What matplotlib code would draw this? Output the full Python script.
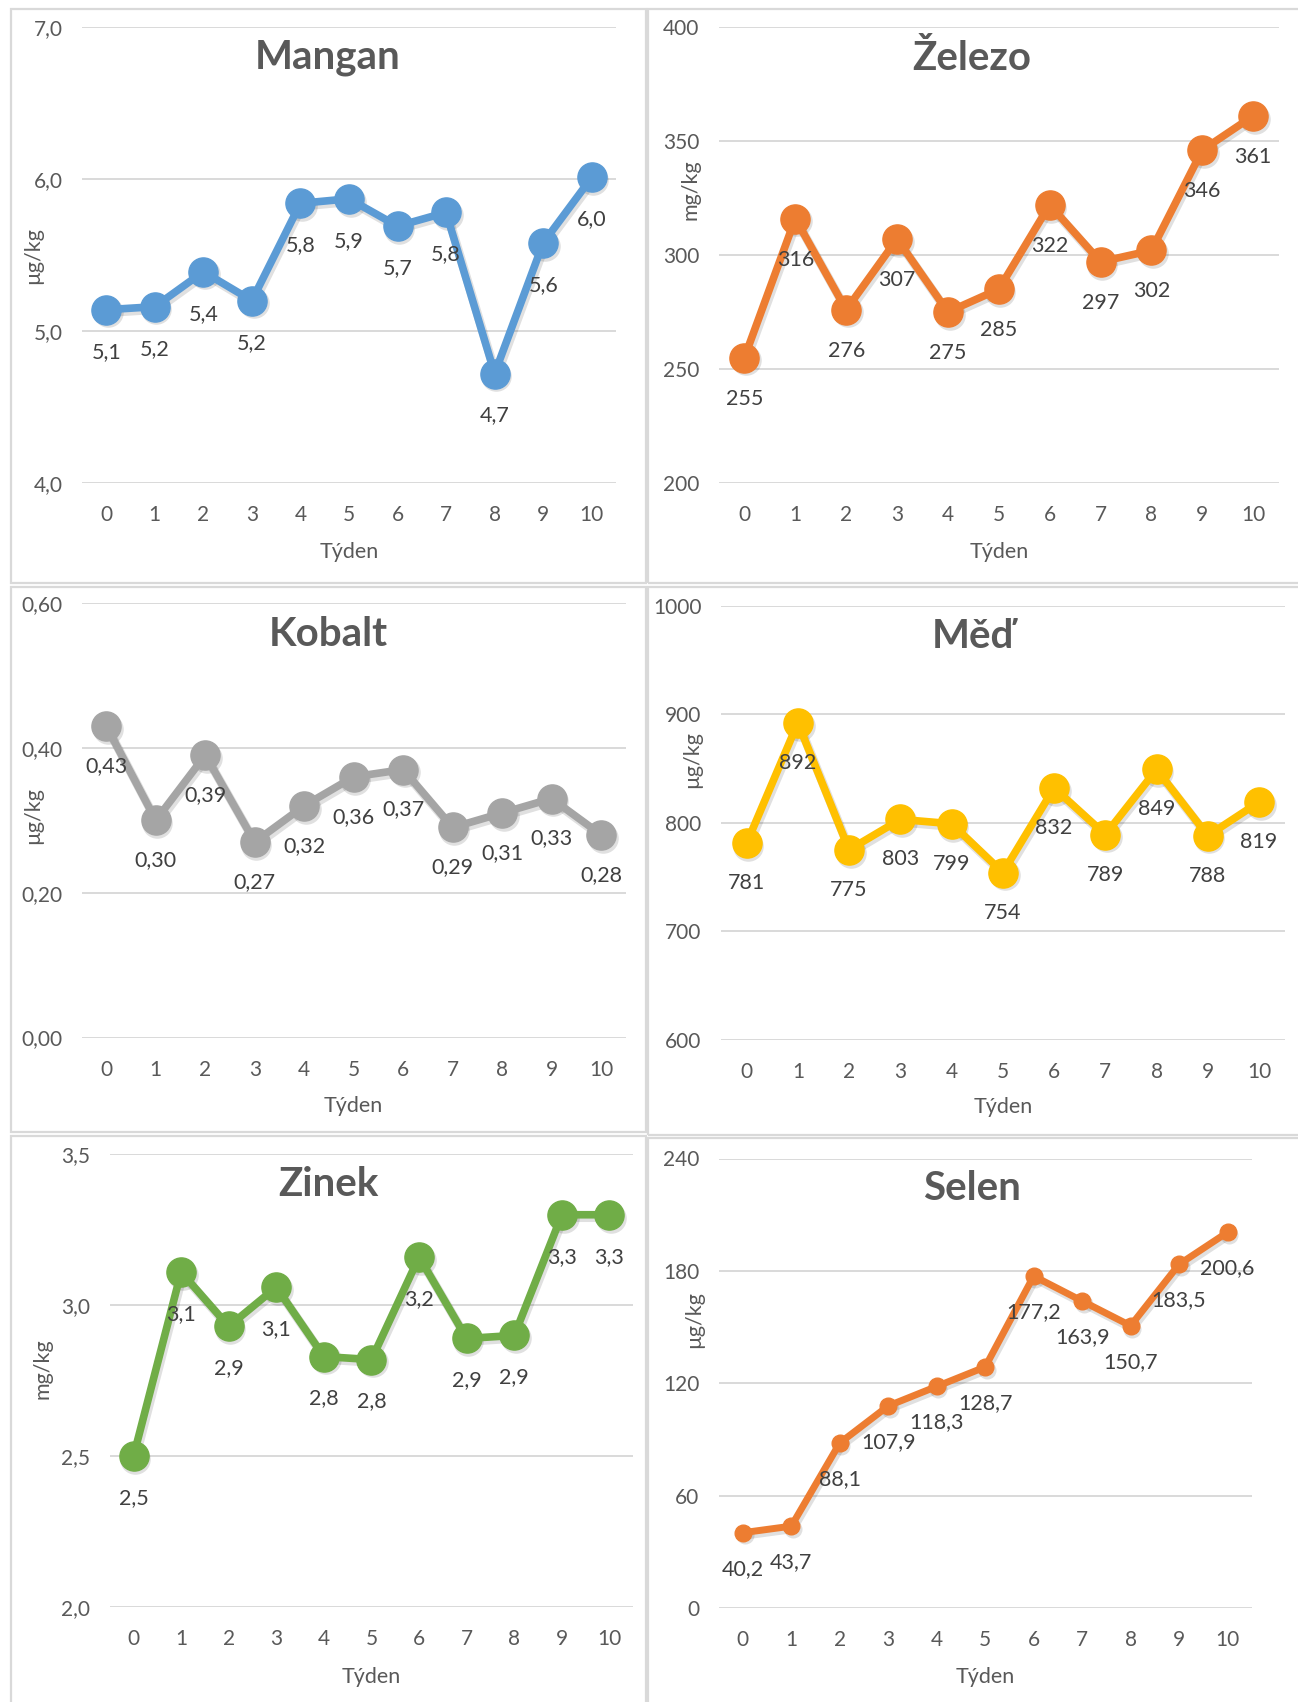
import matplotlib
matplotlib.use("Agg")
import matplotlib.pyplot as plt
import matplotlib.transforms as mtransforms
from matplotlib.patches import Rectangle

plt.rcParams['font.family'] = ['Lato', 'DejaVu Sans']

# ---------------- data ----------------
weeks = [0, 1, 2, 3, 4, 5, 6, 7, 8, 9, 10]

mangan = [5.14, 5.16, 5.39, 5.20, 5.84, 5.87, 5.69, 5.78, 4.72, 5.58, 6.01]
mangan_labels = ["5,1", "5,2", "5,4", "5,2", "5,8", "5,9", "5,7", "5,8", "4,7", "5,6", "6,0"]

zelezo = [255, 316, 276, 307, 275, 285, 322, 297, 302, 346, 361]
zelezo_labels = ["255", "316", "276", "307", "275", "285", "322", "297", "302", "346", "361"]

kobalt = [0.43, 0.30, 0.39, 0.27, 0.32, 0.36, 0.37, 0.29, 0.31, 0.33, 0.28]
kobalt_labels = ["0,43", "0,30", "0,39", "0,27", "0,32", "0,36", "0,37", "0,29", "0,31", "0,33", "0,28"]

med = [781, 892, 775, 803, 799, 754, 832, 789, 849, 788, 819]
med_labels = ["781", "892", "775", "803", "799", "754", "832", "789", "849", "788", "819"]

zinek = [2.50, 3.11, 2.93, 3.06, 2.83, 2.82, 3.16, 2.89, 2.90, 3.30, 3.30]
zinek_labels = ["2,5", "3,1", "2,9", "3,1", "2,8", "2,8", "3,2", "2,9", "2,9", "3,3", "3,3"]

selen = [40.2, 43.7, 88.1, 107.9, 118.3, 128.7, 177.2, 163.9, 150.7, 183.5, 200.6]
selen_labels = ["40,2", "43,7", "88,1", "107,9", "118,3", "128,7", "177,2", "163,9", "150,7", "183,5", "200,6"]

titles = ["Mangan", "Železo", "Kobalt", "Měď", "Zinek", "Selen"]
units = ["µg/kg", "mg/kg", "µg/kg", "µg/kg", "mg/kg", "µg/kg"]
xlabel = "Týden"

yticks_mangan = [4.0, 5.0, 6.0, 7.0]
yticks_zelezo = [200, 250, 300, 350, 400]
yticks_kobalt = [0.0, 0.2, 0.4, 0.6]
yticks_med = [600, 700, 800, 900, 1000]
yticks_zinek = [2.0, 2.5, 3.0, 3.5]
yticks_selen = [0, 60, 120, 180, 240]

# ---------------- layout ----------------
W, H = 1298, 1702
fig = plt.figure(figsize=(W / 100, H / 100), dpi=100)
fig.patch.set_facecolor("white")

PX = 0.72  # points per pixel

def frac_rect(l, t, r, b):
    return [l / W, 1 - b / H, (r - l) / W, (b - t) / H]

# panel borders
panels = [(11, 9, 646, 583), (648, 9, 1310, 583),
          (11, 587, 646, 1132), (648, 587, 1310, 1135),
          (11, 1136, 646, 1720), (648, 1138, 1310, 1720)]
for (l, t, r, b) in panels:
    fig.patches.append(Rectangle((l / W, 1 - b / H), (r - l) / W, (b - t) / H,
                                 transform=fig.transFigure, fill=False,
                                 ec="#D9D9D9", lw=1.6, zorder=0))

specs = [
    dict(vals=mangan, labs=mangan_labels, ticks=yticks_mangan, fmt="{:.1f}",
         rect=(82, 27, 616, 483), color="#5B9BD5", ms=21, lw=5.5,
         title_xy=(328, 58), ylab_xy=(33, 256), xlab_xy=(349, 552), off=42),
    dict(vals=zelezo, labs=zelezo_labels, ticks=yticks_zelezo, fmt="{:.0f}",
         rect=(719, 27, 1278.6, 483), color="#ED7D31", ms=21, lw=5.5,
         title_xy=(972, 58), ylab_xy=(690, 190), xlab_xy=(999, 552), off=41),
    dict(vals=kobalt, labs=kobalt_labels, ticks=yticks_kobalt, fmt="{:.2f}",
         rect=(81.6, 603, 625.8, 1037.5), color="#A5A5A5", ms=21, lw=5.5,
         title_xy=(328, 634), ylab_xy=(33, 816), xlab_xy=(353, 1106), off=40),
    dict(vals=med, labs=med_labels, ticks=yticks_med, fmt="{:.0f}",
         rect=(721, 605.6, 1284.7, 1039.7), color="#FFC000", ms=21, lw=5.5,
         title_xy=(973, 637), ylab_xy=(692, 760), xlab_xy=(1003, 1107), off=40),
    dict(vals=zinek, labs=zinek_labels, ticks=yticks_zinek, fmt="{:.1f}",
         rect=(109.7, 1154.4, 633.3, 1607), color="#70AD47", ms=21, lw=5.5,
         title_xy=(328, 1185), ylab_xy=(43, 1369), xlab_xy=(371, 1677), off=42),
    dict(vals=selen, labs=selen_labels, ticks=yticks_selen, fmt="{:.0f}",
         rect=(718.6, 1158.5, 1251.8, 1608), color="#ED7D31", ms=12, lw=5.0,
         title_xy=(972, 1188), ylab_xy=(694, 1320), xlab_xy=(985, 1677), off=36),
]

TXT = "#595959"
LAB = "#404040"

for i, s in enumerate(specs):
    ax = fig.add_axes(frac_rect(*s["rect"]))
    ax.set_xlim(-0.5, 10.5)
    ax.set_ylim(s["ticks"][0], s["ticks"][-1])
    for sp in ax.spines.values():
        sp.set_visible(False)
    for tv in s["ticks"]:
        ax.axhline(tv, color="#D9D9D9", lw=1.4, zorder=1)
    ax.set_yticks(s["ticks"])
    ax.set_yticklabels([s["fmt"].format(v).replace(".", ",") for v in s["ticks"]])
    ax.set_xticks(weeks)
    ax.set_xticklabels([str(w) for w in weeks])
    ax.tick_params(axis="both", length=0, labelsize=15, labelcolor=TXT)
    ax.tick_params(axis="y", pad=14)
    ax.tick_params(axis="x", pad=16)

    # soft shadow
    shadow_tr = mtransforms.offset_copy(ax.transData, fig=fig, x=1.2, y=-2.0, units="points")
    ax.plot(weeks, s["vals"], color="black", alpha=0.12, lw=s["lw"] + 1, marker="o",
            ms=s["ms"] + 1, mew=0, solid_joinstyle="round", transform=shadow_tr,
            zorder=2, clip_on=False)
    ax.plot(weeks, s["vals"], color=s["color"], lw=s["lw"], marker="o",
            ms=s["ms"], mfc=s["color"], mec=s["color"], zorder=3,
            solid_joinstyle="round", clip_on=False)

    for x, y, lab in zip(weeks, s["vals"], s["labs"]):
        ax.annotate(lab, (x, y), xytext=(0, -s["off"] * PX), textcoords="offset points",
                    ha="center", va="center", fontsize=15.5, color=LAB, zorder=4)

    tx, ty = s["title_xy"]
    fig.text(tx / W, 1 - ty / H, titles[i], ha="center", va="center",
             fontsize=29, fontweight="bold", color=TXT)
    yx, yy = s["ylab_xy"]
    fig.text(yx / W, 1 - yy / H, units[i], ha="center", va="center",
             rotation=90, fontsize=15.5, color=TXT)
    xx, xy = s["xlab_xy"]
    fig.text(xx / W, 1 - xy / H, xlabel, ha="center", va="center",
             fontsize=15.5, color=TXT)

fig.savefig("out.png", dpi=100, facecolor="white")
